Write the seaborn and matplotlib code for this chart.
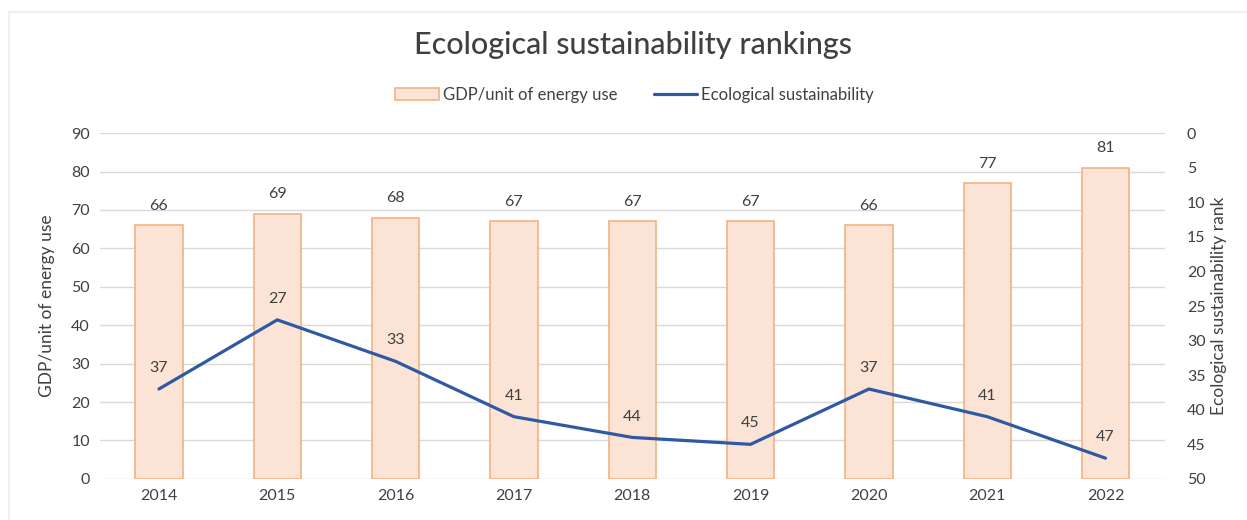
import matplotlib
matplotlib.use("Agg")
import matplotlib.pyplot as plt
import seaborn as sns
import pandas as pd
from matplotlib.patches import Rectangle, Patch
from matplotlib.lines import Line2D

years = ["2014", "2015", "2016", "2017", "2018", "2019", "2020", "2021", "2022"]
gdp_energy = [66, 69, 68, 67, 67, 67, 66, 77, 81]
eco_rank = [37, 27, 33, 41, 44, 45, 37, 41, 47]

title = "Ecological sustainability rankings"
bar_label = "GDP/unit of energy use"
line_label = "Ecological sustainability"
left_ylabel = "GDP/unit of energy use"
right_ylabel = "Ecological sustainability rank"

sns.set_theme(style="white")
plt.rcParams['font.family'] = ['Lato', 'DejaVu Sans']

bar_fill = "#FBE3D6"
bar_edge = "#F4B183"
line_color = "#3059A3"
text_color = "#404040"
grid_color = "#D9D9D9"
fs = 11.5

df = pd.DataFrame({"year": years, "gdp": gdp_energy, "rank": eco_rank})

fig = plt.figure(figsize=(12.47, 5.2), dpi=100)
ax = fig.add_axes([0.080, 0.079, 0.854, 0.665])

sns.barplot(data=df, x="year", y="gdp", ax=ax, color=bar_fill, width=0.4,
            edgecolor=bar_edge, linewidth=1.2, saturation=1)
ax.set_ylim(0, 90)
ax.set_xlim(-0.5, len(years) - 0.5)
ax.set_yticks(range(0, 91, 10))
ax.yaxis.grid(True, color=grid_color, linewidth=1)
ax.set_axisbelow(True)
for s in ax.spines.values():
    s.set_visible(False)
ax.set_xlabel("")
ax.set_ylabel(left_ylabel, fontsize=12.5, color=text_color, labelpad=12)
ax.tick_params(axis="both", labelsize=fs, colors=text_color, length=0, pad=7)

for i, v in enumerate(gdp_energy):
    ax.annotate(str(v), (i, v), xytext=(0, 9), textcoords="offset points",
                ha="center", va="bottom", fontsize=fs, color=text_color)

ax2 = ax.twinx()
sns.lineplot(x=list(range(len(years))), y=eco_rank, ax=ax2, color=line_color,
             linewidth=2.3)
ax2.set_ylim(50, 0)
ax2.set_yticks(range(0, 51, 5))
for s in ax2.spines.values():
    s.set_visible(False)
ax2.set_ylabel(right_ylabel, fontsize=12.5, color=text_color, labelpad=4)
ax2.tick_params(axis="y", labelsize=fs, colors=text_color, length=0, pad=16)
ax2.set_xlim(-0.5, len(years) - 0.5)

for i, v in enumerate(eco_rank):
    ax2.annotate(str(v), (i, v), xytext=(0, 10), textcoords="offset points",
                 ha="center", va="bottom", fontsize=fs, color=text_color)

fig.text(0.508, 0.913, title, ha="center", va="center", fontsize=22,
         color=text_color, fontweight="medium")

handles = [Patch(facecolor=bar_fill, edgecolor=bar_edge, linewidth=1.2),
           Line2D([0], [0], color=line_color, linewidth=2.3)]
fig.legend(handles, [bar_label, line_label], loc="center",
           bbox_to_anchor=(0.509, 0.818), ncol=2, frameon=False,
           fontsize=12, handlelength=2.6, handletextpad=0.25,
           columnspacing=2.2, labelcolor=text_color)

fig.patches.append(Rectangle((0.007, -0.01), 1.1, 0.987, transform=fig.transFigure,
                             fill=False, edgecolor="#EBEBEB", linewidth=1.2))

fig.savefig("out.png", dpi=100)
